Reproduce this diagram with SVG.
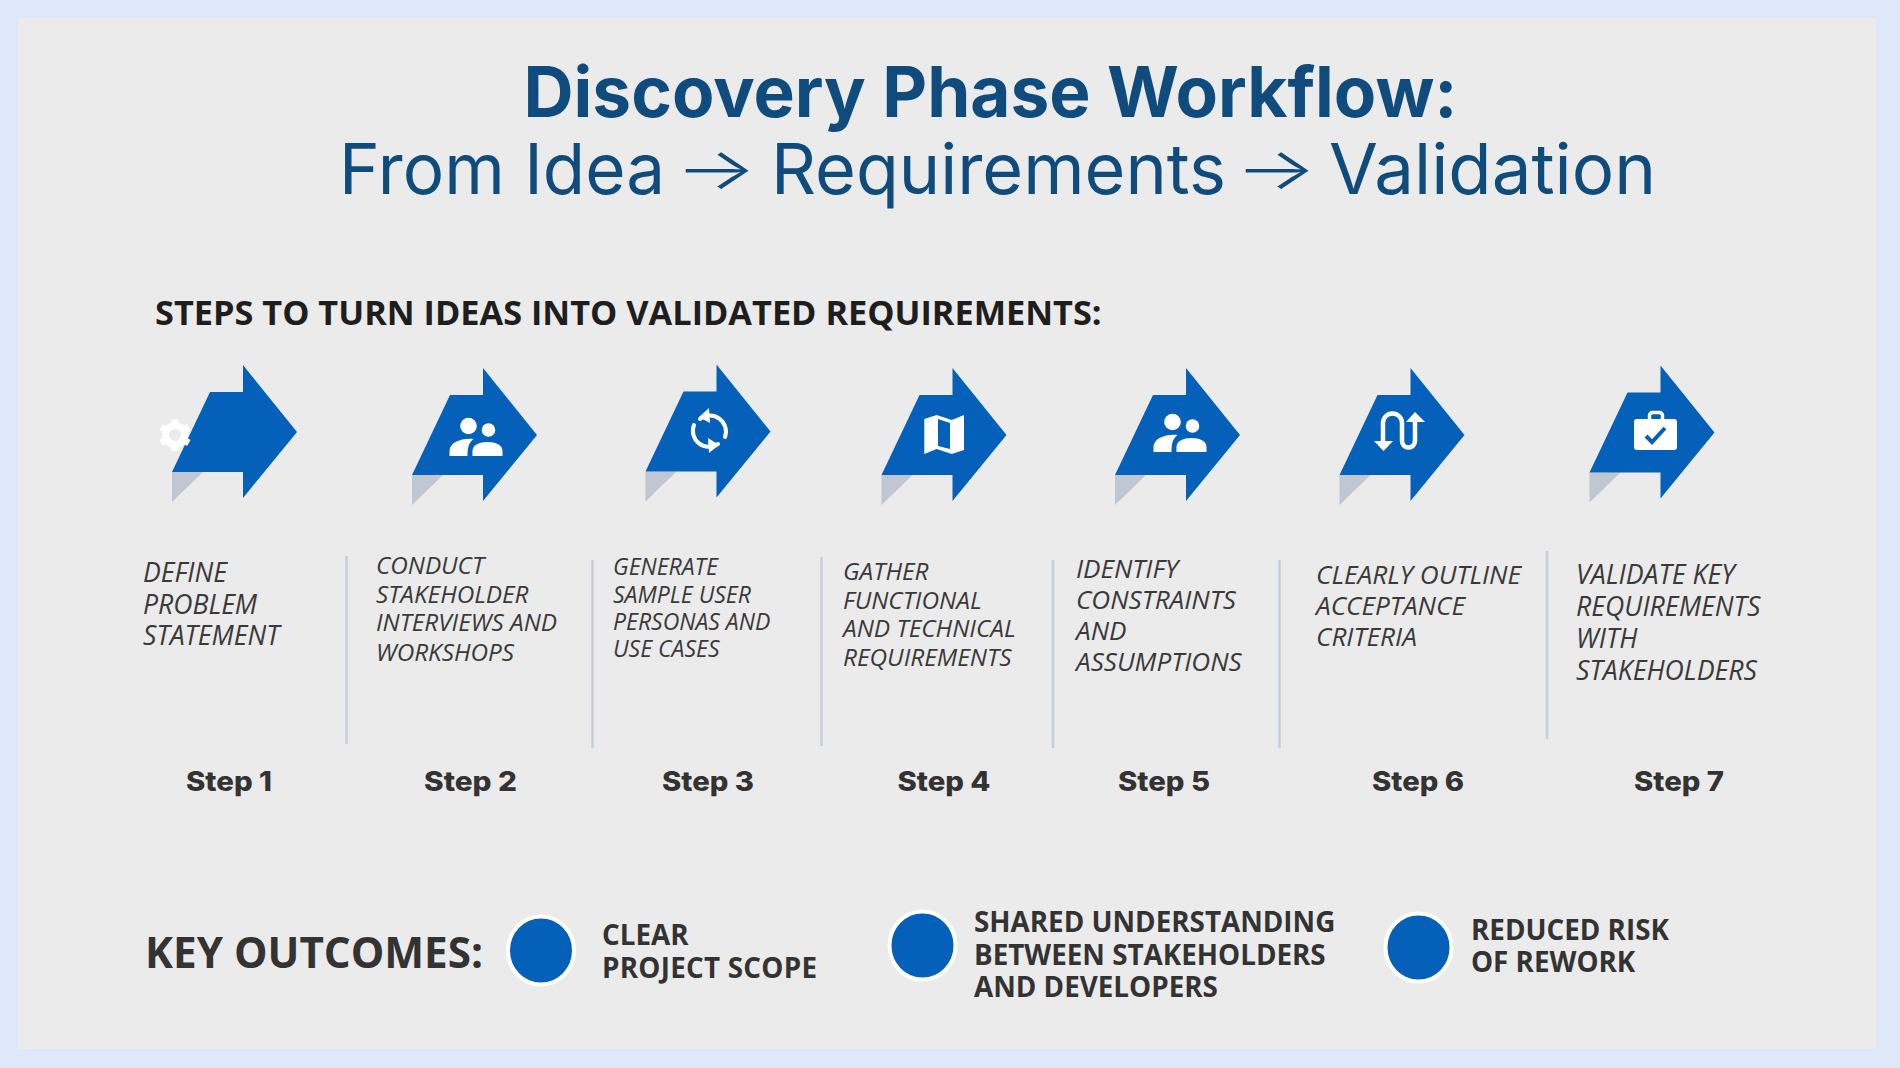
<svg xmlns="http://www.w3.org/2000/svg" width="1900" height="1068" viewBox="0 0 1900 1068">
<defs>
<style>
.ar{fill:#0560ba}.sh{fill:#c0c6d2}.w{fill:#fff}
.wl{fill:none;stroke:#fff;stroke-linecap:round}
text{font-family:"Open Sans","Liberation Sans",sans-serif}
.t1{font-family:Inter,"Liberation Sans",sans-serif;font-size:70px;font-weight:700;fill:#0f4c7d;text-anchor:middle}
.t2{font-family:Inter,"Liberation Sans",sans-serif;font-size:70px;font-weight:400;fill:#0f4c7d}
.ta{font-family:Inter,"Liberation Sans",sans-serif;font-size:58px;font-weight:300;fill:#0f4c7d}
.h{font-weight:700;font-size:34.300px;fill:#1e1e1e}
.d{font-style:italic;font-weight:400;fill:#3a3a3a}
.st{font-family:Inter,sans-serif;font-weight:800;font-size:27px;fill:#333;text-anchor:middle}
.k{font-weight:700;font-size:42.200px;fill:#333}
.o{font-weight:700;font-size:27.800px;fill:#333}
.dv{stroke:#c6ced9;stroke-width:2.5}
.c{fill:#0560ba;stroke:#fff;stroke-width:4}
</style>
<g id="arrow">
<polygon class="sh" points="-71,107 -71,137 -40,107"/>
<polygon class="ar" points="0,0 54,67 0,133 0,107 -71,107 -33,27 0,27"/>
</g>
<g id="people">
<circle class="w" cx="0" cy="0" r="8.3"/>
<circle class="w" cx="20" cy="4" r="6.8"/>
<path class="w" d="M-19 30V25C-19 17-8 12 5 13C0 17-1 22-1 30Z"/>
<path class="w" d="M4 30V25C4 19 11 16 19 16C27 16 34 19 34 25V30Z"/>
</g>
</defs>
<rect width="1900" height="1068" fill="#dfe8fa"/>
<rect x="18" y="18" width="1858" height="1031" fill="#ebebeb"/>
<text class="t1" x="990.500" y="117" textLength="934" lengthAdjust="spacingAndGlyphs">Discovery Phase Workflow:</text>
<text class="t2" x="339" y="194" textLength="326" lengthAdjust="spacingAndGlyphs">From Idea</text>
<text class="ta" x="675" y="188.500" textLength="82" lengthAdjust="spacingAndGlyphs">→</text>
<text class="t2" x="771" y="194" textLength="455" lengthAdjust="spacingAndGlyphs">Requirements</text>
<text class="ta" x="1235" y="188.500" textLength="82" lengthAdjust="spacingAndGlyphs">→</text>
<text class="t2" x="1329" y="194" textLength="327" lengthAdjust="spacingAndGlyphs">Validation</text>
<text class="h" x="155" y="325">STEPS TO TURN IDEAS INTO VALIDATED REQUIREMENTS:</text>
<g id="step1">
<use href="#arrow" x="243" y="365"/>
<g transform="translate(175,435)">
<circle class="wl" r="9.5" stroke-width="7"/>
<g class="w"><rect x="-3.5" y="-16" width="7" height="7"/><rect x="-3.5" y="9" width="7" height="7"/><rect x="-3.5" y="-16" width="7" height="7" transform="rotate(60)"/><rect x="-3.5" y="9" width="7" height="7" transform="rotate(60)"/><rect x="-3.5" y="-16" width="7" height="7" transform="rotate(120)"/><rect x="-3.5" y="9" width="7" height="7" transform="rotate(120)"/></g>
</g>
<text class="d" font-size="26.600"><tspan x="143" y="582">DEFINE</tspan><tspan x="143" y="614">PROBLEM</tspan><tspan x="143" y="645">STATEMENT</tspan></text>
<text class="st" x="229" y="791" textLength="86" lengthAdjust="spacingAndGlyphs">Step 1</text>
</g>
<g id="step2">
<use href="#arrow" x="483" y="368"/>
<use href="#people" x="468.500" y="426"/>
<text class="d" font-size="24.300"><tspan x="376" y="574">CONDUCT</tspan><tspan x="376" y="603">STAKEHOLDER</tspan><tspan x="376" y="631">INTERVIEWS AND</tspan><tspan x="376" y="661">WORKSHOPS</tspan></text>
<text class="st" x="470.500" y="791" textLength="93" lengthAdjust="spacingAndGlyphs">Step 2</text>
</g>
<g id="step3">
<use href="#arrow" x="716.500" y="364.500"/>
<path class="wl" stroke-width="4" d="M700 419A16 16 0 0 1 725 437M718 444A16 16 0 0 1 694 425"/>
<polygon class="w" points="709,408 710,423 699,417"/>
<polygon class="w" points="709,453 708,438 719,445"/>
<text class="d" font-size="23"><tspan x="613" y="575">GENERATE</tspan><tspan x="613" y="603">SAMPLE USER</tspan><tspan x="613" y="630">PERSONAS AND</tspan><tspan x="613" y="657">USE CASES</tspan></text>
<text class="st" x="708" y="791" textLength="92" lengthAdjust="spacingAndGlyphs">Step 3</text>
</g>
<g id="step4">
<use href="#arrow" x="952.500" y="368"/>
<path class="w" fill-rule="evenodd" d="M924.300 419L936.700 415L951.700 420L964 415V450L951.700 454L936.700 449L924.300 454ZM938 419V446L950 449V423Z"/>
<text class="d" font-size="24.400"><tspan x="843" y="580">GATHER</tspan><tspan x="843" y="609">FUNCTIONAL</tspan><tspan x="843" y="637">AND TECHNICAL</tspan><tspan x="843" y="666">REQUIREMENTS</tspan></text>
<text class="st" x="944" y="791" textLength="93" lengthAdjust="spacingAndGlyphs">Step 4</text>
</g>
<g id="step5">
<use href="#arrow" x="1186" y="368"/>
<use href="#people" x="1172.500" y="422"/>
<text class="d" font-size="26.100"><tspan x="1076" y="578">IDENTIFY</tspan><tspan x="1076" y="609">CONSTRAINTS</tspan><tspan x="1076" y="640">AND</tspan><tspan x="1076" y="671">ASSUMPTIONS</tspan></text>
<text class="st" x="1164" y="791" textLength="92" lengthAdjust="spacingAndGlyphs">Step 5</text>
</g>
<g id="step6">
<use href="#arrow" x="1410.500" y="368"/>
<path class="wl" stroke-width="4.5" stroke-linecap="butt" d="M1383 442V423A9.5 9.5 0 0 1 1402 423V441A6.5 6.5 0 0 0 1415 441V420"/>
<polygon class="w" points="1374,441 1393,441 1383.500,451"/>
<polygon class="w" points="1406,422 1425,422 1415,412"/>
<text class="d" font-size="26.200"><tspan x="1316" y="584">CLEARLY OUTLINE</tspan><tspan x="1316" y="615">ACCEPTANCE</tspan><tspan x="1316" y="646">CRITERIA</tspan></text>
<text class="st" x="1418" y="791" textLength="92" lengthAdjust="spacingAndGlyphs">Step 6</text>
</g>
<g id="step7">
<use href="#arrow" x="1660.500" y="365.500"/>
<rect class="w" x="1634" y="419" width="43" height="31" rx="3"/>
<rect x="1649.500" y="412.500" width="13" height="9" rx="3" fill="none" stroke="#fff" stroke-width="3.500"/>
<path d="M1646 436L1652 442L1665 428" fill="none" stroke="#0560ba" stroke-width="4"/>
<text class="d" font-size="26.700"><tspan x="1576" y="584">VALIDATE KEY</tspan><tspan x="1576" y="616">REQUIREMENTS</tspan><tspan x="1576" y="648">WITH</tspan><tspan x="1576" y="680">STAKEHOLDERS</tspan></text>
<text class="st" x="1679" y="791" textLength="90" lengthAdjust="spacingAndGlyphs">Step 7</text>
</g>
<g id="dividers">
<line class="dv" x1="346.500" y1="556" x2="346.500" y2="744"/>
<line class="dv" x1="592.500" y1="560" x2="592.500" y2="748"/>
<line class="dv" x1="821.500" y1="557" x2="821.500" y2="746"/>
<line class="dv" x1="1053" y1="560" x2="1053" y2="748"/>
<line class="dv" x1="1279.500" y1="560" x2="1279.500" y2="748"/>
<line class="dv" x1="1547" y1="551" x2="1547" y2="739"/>
</g>
<g id="outcomes">
<text class="k" x="145" y="968">KEY OUTCOMES:</text>
<g id="outcome1"><ellipse class="c" cx="541" cy="950.500" rx="33" ry="34"/><text class="o"><tspan x="602" y="945">CLEAR</tspan><tspan x="602" y="977.500" textLength="215">PROJECT SCOPE</tspan></text></g>
<g id="outcome2"><ellipse class="c" cx="922.500" cy="945.500" rx="33" ry="34"/><text class="o"><tspan x="974" y="932">SHARED UNDERSTANDING</tspan><tspan x="974" y="965">BETWEEN STAKEHOLDERS</tspan><tspan x="974" y="997">AND DEVELOPERS</tspan></text></g>
<g id="outcome3"><ellipse class="c" cx="1418.500" cy="947.500" rx="33" ry="34"/><text class="o"><tspan x="1471" y="940">REDUCED RISK</tspan><tspan x="1471" y="972">OF REWORK</tspan></text></g>
</g>
</svg>
